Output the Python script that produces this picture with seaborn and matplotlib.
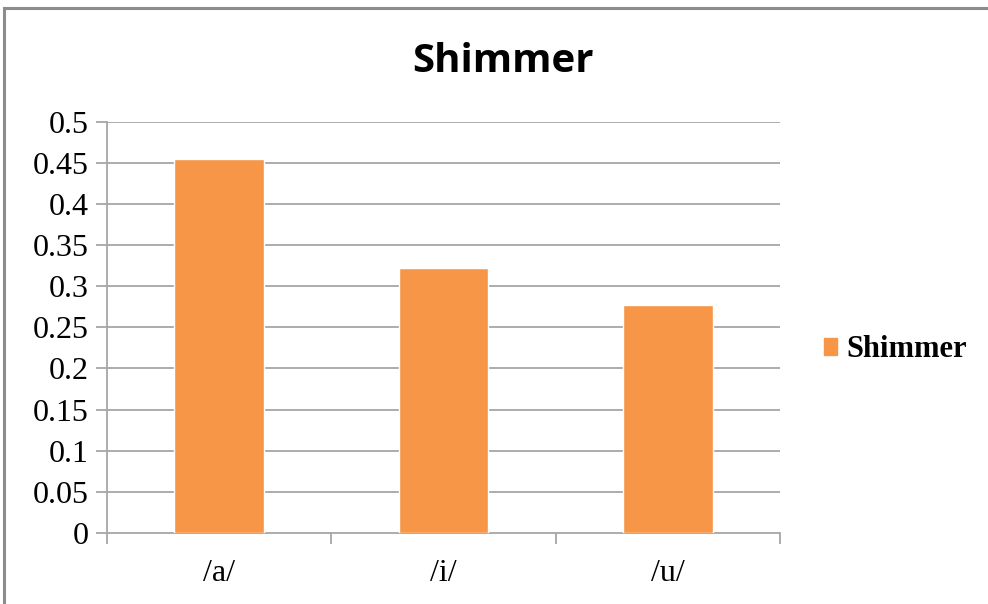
import matplotlib
matplotlib.use("Agg")
import matplotlib.pyplot as plt
import seaborn as sns
import pandas as pd
import numpy as np
from matplotlib.patches import Rectangle

vowels = ["/a/", "/i/", "/u/"]
shimmer = [0.454, 0.322, 0.277]
y_ticks = [0, 0.05, 0.1, 0.15, 0.2, 0.25, 0.3, 0.35, 0.4, 0.45, 0.5]
y_labels = ["0", "0.05", "0.1", "0.15", "0.2", "0.25", "0.3", "0.35", "0.4", "0.45", "0.5"]

sns.set_theme(style="white")
plt.rcParams["font.family"] = ["Liberation Serif", "DejaVu Serif"]
plt.rcParams["text.color"] = "black"

df = pd.DataFrame({"vowel": vowels, "value": shimmer})

fig = plt.figure(figsize=(9.88, 6.04), dpi=100)
ax = fig.add_axes([107 / 988, 1 - 533 / 604, (780 - 107) / 988, (533 - 121.6) / 604])

bar_color = "#F79646"
grid_color = "#A6A6A6"

sns.barplot(data=df, x="vowel", y="value", color=bar_color, width=0.4,
            saturation=1, ax=ax, zorder=3)

ax.set_xlim(-0.5, 2.5)
ax.set_ylim(0, 0.5)
ax.set_yticks(y_ticks)
ax.set_yticklabels(y_labels, fontsize=23)
ax.set_xticklabels(vowels, fontsize=23)
ax.set_xlabel("")
ax.set_ylabel("")

for y in y_ticks[1:]:
    ax.axhline(y, color=grid_color, lw=1.3, zorder=1)

for s in ["top", "right"]:
    ax.spines[s].set_visible(False)
for s in ["left", "bottom"]:
    ax.spines[s].set_color(grid_color)
    ax.spines[s].set_linewidth(1.3)

ax.tick_params(axis="y", which="major", left=True, length=8, width=1.3,
               color=grid_color, pad=5, labelcolor="black")
ax.tick_params(axis="x", which="major", bottom=False, pad=13, labelcolor="black")
ax.set_xticks([-0.5, 0.5, 1.5, 2.5], minor=True)
ax.tick_params(axis="x", which="minor", bottom=True, length=8, width=1.3,
               color=grid_color, direction="out")

# Chart title
fig.text(503 / 988, 1 - 62 / 604, "Shimmer", ha="center", va="center",
         fontsize=29, fontweight="bold", color="black",
         family=["Open Sans", "DejaVu Sans"])

# Legend
handle = Rectangle((0, 0), 1, 1, color=bar_color)
leg = fig.legend([handle], ["Shimmer"], loc="center left",
                 bbox_to_anchor=(796 / 988, 1 - 350 / 604), frameon=False,
                 prop={"family": "Liberation Serif", "weight": "bold", "size": 22},
                 handlelength=0.45, handleheight=0.45, handletextpad=0.3)
for t in leg.get_texts():
    t.set_color("black")

# Outer chart frame
fig.patches.append(Rectangle((4 / 988, -0.05), 1.2, 1 - 8 / 604 + 0.05,
                             transform=fig.transFigure, fill=False,
                             edgecolor="#8C8C8C", lw=2.2))

fig.savefig("out.png", dpi=100)
